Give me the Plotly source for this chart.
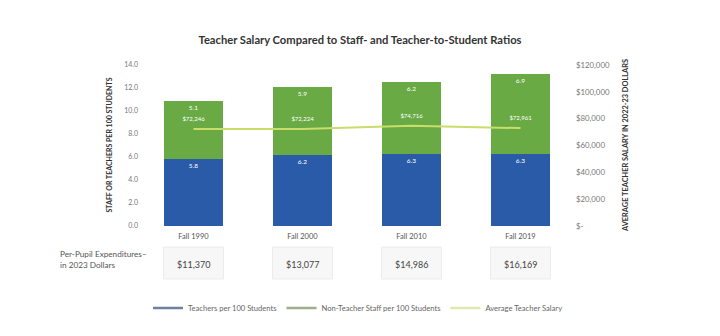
import plotly.graph_objects as go

categories = ["Fall 1990", "Fall 2000", "Fall 2010", "Fall 2019"]
teachers_per_100 = [5.8, 6.2, 6.3, 6.3]
non_teacher_staff_per_100 = [5.1, 5.9, 6.2, 6.9]
avg_teacher_salary = [72246, 72224, 74716, 72961]
per_pupil_expenditures = [11370, 13077, 14986, 16169]

left_ticks = [0, 2, 4, 6, 8, 10, 12, 14]
right_ticks = [0, 20000, 40000, 60000, 80000, 100000, 120000]
right_ticktext = ["$-" if v == 0 else "${:,}".format(v) for v in right_ticks]

BLUE = "#2a5ba9"
GREEN = "#6aaa45"
LINE = "#c8dd6a"
FONT = "Lato"

fig = go.Figure()

fig.add_trace(go.Bar(
    x=categories, y=teachers_per_100, name="Teachers per 100 Students",
    marker=dict(color=BLUE, line=dict(width=0)),
    text=["{:.1f}".format(v) for v in teachers_per_100],
    textposition="inside", insidetextanchor="end", textangle=0,
    constraintext="none",
    textfont=dict(color="white", size=6.5, family=FONT),
    showlegend=False,
))
fig.add_trace(go.Bar(
    x=categories, y=non_teacher_staff_per_100, name="Non-Teacher Staff per 100 Students",
    marker=dict(color=GREEN, line=dict(width=0)),
    text=["{:.1f}".format(v) for v in non_teacher_staff_per_100],
    textposition="inside", insidetextanchor="end", textangle=0,
    constraintext="none",
    textfont=dict(color="white", size=6.5, family=FONT),
    showlegend=False,
))
fig.add_trace(go.Scatter(
    x=categories, y=avg_teacher_salary, name="Average Teacher Salary",
    yaxis="y2", mode="lines+markers+text",
    line=dict(color=LINE, width=2),
    marker=dict(size=9, opacity=0, color=LINE),
    text=["${:,}".format(v) for v in avg_teacher_salary],
    textposition="top center",
    textfont=dict(color="white", size=6, family=FONT),
    showlegend=False,
))

# legend entries (line swatches as in the reference)
legend_items = [("Teachers per 100 Students", "#6f7f9e"),
                ("Non-Teacher Staff per 100 Students", "#9cae8c"),
                ("Average Teacher Salary", "#dfe8b0")]
for name, col in legend_items:
    fig.add_trace(go.Scatter(x=[None], y=[None], mode="lines", name=name,
                             line=dict(color=col, width=2.5), showlegend=True))

fig.update_layout(
    width=720, height=336,
    margin=dict(l=139, r=145, t=65, b=110, autoexpand=False),
    paper_bgcolor="white", plot_bgcolor="white",
    barmode="stack", bargap=0.45,
    font=dict(family=FONT, size=7, color="#666666"),
    title=dict(text="<b>Teacher Salary Compared to Staff- and Teacher-to-Student Ratios</b>",
               x=0.5, xanchor="center", y=1 - 40 / 336, yanchor="middle",
               font=dict(family=FONT, size=11.2, color="#333333")),
    xaxis=dict(type="category", showgrid=False, showline=False, ticks="",
               ticklabelstandoff=4,
               tickfont=dict(size=7.5, color="#555555")),
    yaxis=dict(range=[0, 14], tickvals=left_ticks, tickformat=".1f",
               showgrid=False, showline=False, zeroline=False, ticks="",
               tickfont=dict(size=7, color="#777777")),
    yaxis2=dict(range=[0, 120000], tickvals=right_ticks, ticktext=right_ticktext,
                overlaying="y", side="right", showgrid=False, showline=False,
                zeroline=False, ticks="", tickfont=dict(size=7.8, color="#777777")),
    legend=dict(orientation="h", xref="container", yref="container",
                x=148 / 720, xanchor="left", y=1 - 308 / 336, yanchor="middle",
                font=dict(size=7.6, color="#666666"), itemwidth=30,
                traceorder="normal"),
    showlegend=True,
)

# axis titles
fig.add_annotation(text="<b>STAFF OR TEACHERS PER 100 STUDENTS</b>", textangle=-90,
                   xref="paper", yref="paper", x=(102 - 139) / 436, y=0.5,
                   showarrow=False, font=dict(size=7.0, color="#333333"))
fig.add_annotation(text="<b>AVERAGE TEACHER SALARY IN 2022-23 DOLLARS</b>", textangle=-90,
                   xref="paper", yref="paper", x=(632 - 139) / 436, y=0.5,
                   showarrow=False, font=dict(size=7.4, color="#333333"))

# expenditure table
fig.add_annotation(text="Per-Pupil Expenditures–<br>in 2023 Dollars", align="left",
                   xref="paper", yref="paper", x=(58 - 139) / 436, xanchor="left",
                   y=(226 - 259) / 161, yanchor="middle", showarrow=False,
                   font=dict(size=8.2, color="#555555"))
for i, (cat, val) in enumerate(zip(categories, per_pupil_expenditures)):
    fig.add_shape(type="rect", xref="x", yref="paper",
                  x0=i - 0.275, x1=i + 0.275,
                  y0=(226 - 279) / 161, y1=(226 - 247) / 161,
                  fillcolor="#f7f7f7", line=dict(color="#ececec", width=1), layer="below")
    fig.add_annotation(text="${:,}".format(val), xref="x", yref="paper",
                       x=cat, y=(226 - 264) / 161, yanchor="middle", showarrow=False,
                       font=dict(size=9, color="#444444"))

fig.write_html("out.html")
